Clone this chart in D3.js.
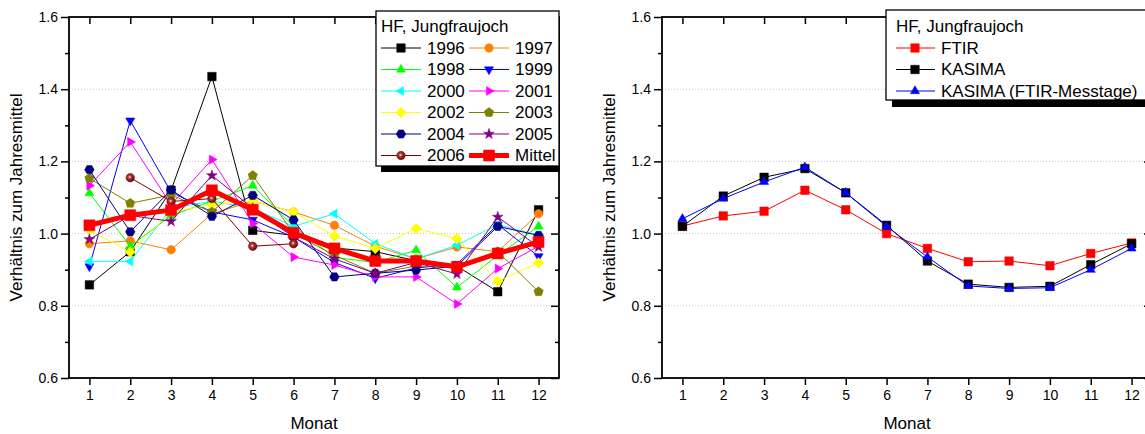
<!DOCTYPE html>
<html><head><meta charset="utf-8">
<script src="https://cdn.jsdelivr.net/npm/d3@7"></script>
<style>body{margin:0;background:#fff;} svg{display:block;font-family:"Liberation Sans",Arial,sans-serif;}</style>
</head><body><svg id="chart" width="1145" height="434"></svg>
<script>
// ---------- DATA ----------
const months = [1,2,3,4,5,6,7,8,9,10,11,12];
const yMajorTicks = [0.6,0.8,1.0,1.2,1.4,1.6];
const yMinorTicks = [0.7,0.9,1.1,1.3,1.5];
const legendTitle = "HF, Jungfraujoch";
const xTitle = "Monat";
const yTitle = "Verhältnis zum Jahresmittel";

const yearNames = ["1996","1997","1998","1999","2000","2001","2002","2003","2004","2005","2006"];
const v1996 = [0.858,0.95,1.12,1.435,1.009,0.995,0.96,0.95,0.925,0.91,0.839,1.066];
const v1997 = [0.972,0.98,0.955,1.055,1.09,1.06,1.023,0.965,0.93,0.963,0.95,1.055];
const v1998 = [1.112,0.965,1.05,1.09,1.133,1.02,0.934,0.92,0.954,0.851,0.94,1.02];
const v1999 = [0.909,1.313,1.115,1.06,1.038,0.99,0.92,0.876,0.905,0.915,1.025,0.937];
const v2000 = [0.923,0.923,1.07,1.09,1.07,1.02,1.055,0.972,0.93,0.968,1.025,0.995];
const v2001 = [1.133,1.254,1.08,1.205,1.028,0.935,0.913,0.88,0.88,0.805,0.903,0.965];
const v2002 = [1.01,0.949,1.06,1.08,1.09,1.06,0.993,0.959,1.014,0.986,0.868,0.919];
const v2003 = [1.153,1.084,1.107,1.06,1.161,1.0,0.94,0.89,0.91,0.91,0.95,0.839];
const v2004 = [1.177,1.005,1.121,1.048,1.106,1.038,0.88,0.89,0.899,0.91,1.02,0.995];
const v2005 = [0.984,1.05,1.034,1.161,1.07,0.99,0.93,0.89,0.92,0.888,1.046,0.963];
const v2006 = [null,1.155,1.089,1.097,0.965,0.972,null,null,null,null,null,null];
const meanName = "Mittel";
const vMittel = [1.023,1.051,1.065,1.12,1.066,1.002,0.959,0.924,0.924,0.908,0.945,0.977];

const rightNames = ["FTIR","KASIMA","KASIMA (FTIR-Messtage)"];
const vFTIR = [1.021,1.049,1.062,1.12,1.066,1.0,0.959,0.922,0.924,0.911,0.945,0.974];
const vKASIMA = [1.02,1.104,1.156,1.18,1.113,1.023,0.924,0.86,0.851,0.854,0.914,0.972];
const vKASIMAmt = [1.041,1.097,1.143,1.184,1.113,1.02,0.935,0.855,0.848,0.85,0.9,0.959];

// ---------- STYLES ----------
const FONT = "'Liberation Sans', Arial, sans-serif";
const yearValues = [v1996,v1997,v1998,v1999,v2000,v2001,v2002,v2003,v2004,v2005,v2006];
const yearColors = ["#000000","#FF8000","#00FF00","#0000FF","#00FFFF","#FF00FF","#FFFF00","#808000","#000080","#800080","#800000"];
const yearSymbols = ["square","circle","triUp","triDown","triLeft","triRight","diamond","pentagon","hexagon","star","ball"];

const svg = d3.select("#chart");
const defs = svg.append("defs");
const grad = defs.append("radialGradient").attr("id","ballGrad").attr("cx","0.4").attr("cy","0.4").attr("r","0.6").attr("fx","0.45").attr("fy","0.45");
grad.append("stop").attr("offset","0").attr("stop-color","#ffffff");
grad.append("stop").attr("offset","0.3").attr("stop-color","#b04040");
grad.append("stop").attr("offset","1").attr("stop-color","#700000");

function polyPath(n, r, rot){
  const pts=[];
  for(let i=0;i<n;i++){const a=rot+i*2*Math.PI/n; pts.push([r*Math.cos(a), r*Math.sin(a)]);}
  return "M"+pts.map(p=>p[0].toFixed(2)+","+p[1].toFixed(2)).join("L")+"Z";
}
function symbolPath(type, s){
  switch(type){
    case "square": return `M${-s/2},${-s/2}h${s}v${s}h${-s}Z`;
    case "circle": return d3.symbol(d3.symbolCircle, Math.PI*(s/2)*(s/2))();
    case "ball": return d3.symbol(d3.symbolCircle, Math.PI*(s/2)*(s/2))();
    case "triUp": return polyPath(3, s*0.62, -Math.PI/2);
    case "triDown": return polyPath(3, s*0.62, Math.PI/2);
    case "triLeft": return polyPath(3, s*0.62, Math.PI);
    case "triRight": return polyPath(3, s*0.62, 0);
    case "diamond": return polyPath(4, s*0.62, -Math.PI/2);
    case "pentagon": return polyPath(5, s*0.58, -Math.PI/2);
    case "hexagon": return polyPath(6, s*0.56, 0);
    case "star": return d3.symbol(d3.symbolStar, s*s*0.5)();
  }
}
function drawSymbol(g, type, color, x, y, s){
  const p = g.append("path").attr("d", symbolPath(type, s)).attr("transform",`translate(${x},${y})`);
  if(type==="ball") p.attr("fill","url(#ballGrad)").attr("stroke","#700000").attr("stroke-width",0.5);
  else p.attr("fill",color).attr("stroke",color).attr("stroke-width",0.5);
  return p;
}

const TOP=17, BOTTOM=378;
function makePanel(left, right){
  const x = d3.scaleLinear().domain([0.5,12.5]).range([left,right]);
  const y = d3.scaleLinear().domain([0.6,1.6]).range([BOTTOM,TOP]);
  const g = svg.append("g");
  g.append("g").selectAll("line").data([0.8,1.0,1.2,1.4]).join("line")
    .attr("x1",left).attr("x2",right).attr("y1",d=>y(d)).attr("y2",d=>y(d))
    .attr("stroke","#c8c8c8").attr("stroke-width",1).attr("stroke-dasharray","1,2");
  const axL = g.append("g").attr("transform",`translate(${left},0)`)
    .call(d3.axisLeft(y).tickValues(yMajorTicks).tickFormat(d3.format(".1f")).tickSize(8).tickPadding(3));
  const axLm = g.append("g").attr("transform",`translate(${left},0)`)
    .call(d3.axisLeft(y).tickValues(yMinorTicks).tickFormat("").tickSize(4));
  const axR = g.append("g").attr("transform",`translate(${right},0)`)
    .call(d3.axisRight(y).tickValues(yMajorTicks).tickFormat("").tickSize(-8));
  const axRm = g.append("g").attr("transform",`translate(${right},0)`)
    .call(d3.axisRight(y).tickValues(yMinorTicks).tickFormat("").tickSize(-4));
  const axB = g.append("g").attr("transform",`translate(0,${BOTTOM})`)
    .call(d3.axisBottom(x).tickValues(months).tickFormat(d3.format("d")).tickSize(7).tickPadding(5));
  const axT = g.append("g").attr("transform",`translate(0,${TOP})`)
    .call(d3.axisTop(x).tickValues(months).tickFormat("").tickSize(-7));
  [axL,axLm,axR,axRm,axB,axT].forEach(a=>{
    a.attr("font-family",FONT);
    a.select(".domain").remove();
    a.selectAll(".tick line").attr("stroke","#000").attr("stroke-width",1.5);
    a.selectAll("text").attr("font-size",14).attr("fill","#000").attr("font-family",FONT);
  });
  g.append("rect").attr("x",left).attr("y",TOP).attr("width",right-left).attr("height",BOTTOM-TOP)
    .attr("fill","none").attr("stroke","#000").attr("stroke-width",1.8);
  svg.append("text").attr("x",(left+right)/2).attr("y",429).attr("text-anchor","middle")
    .attr("font-size",17).attr("font-family",FONT).text(xTitle);
  svg.append("text").attr("transform",`translate(${left-47},${(TOP+BOTTOM)/2}) rotate(-90)`)
    .attr("text-anchor","middle").attr("font-size",17).attr("font-family",FONT).text(yTitle);
  return {x,y,g};
}

function drawSeries(P, vals, color, sym, size, lw){
  const pts = months.map((m,i)=>({m, v: vals[i]}));
  const line = d3.line().defined(d=>d.v!=null).x(d=>P.x(d.m)).y(d=>P.y(d.v));
  const gg = svg.append("g");
  gg.append("path").datum(pts).attr("d",line).attr("fill","none").attr("stroke",color).attr("stroke-width",lw).attr("stroke-linejoin","round");
  pts.filter(d=>d.v!=null).forEach(d=>drawSymbol(gg, sym, color, P.x(d.m), P.y(d.v), size));
}

// ---------- LEFT PANEL ----------
const L = makePanel(69, 559);
yearValues.forEach((vals,i)=>drawSeries(L, vals, yearColors[i], yearSymbols[i], 8.5, 1));
drawSeries(L, vMittel, "#FF0000", "square", 11, 5);

(function(){
  const bx=376, by=11, bw=183, bh=155;
  svg.append("rect").attr("x",bx+5).attr("y",by+bh).attr("width",bw-4).attr("height",6).attr("fill","#000");
  svg.append("rect").attr("x",bx).attr("y",by).attr("width",bw).attr("height",bh).attr("fill","#fff").attr("stroke","#000").attr("stroke-width",1.3);
  const lg = svg.append("g").attr("font-family",FONT);
  lg.append("text").attr("x",bx+5).attr("y",by+15).attr("dy","0.35em").attr("font-size",17).text(legendTitle);
  const names = yearNames.concat([meanName]);
  names.forEach((n,i)=>{
    const col = i%2, row = Math.floor(i/2);
    const cy = 48 + row*21.5;
    const x0 = col===0 ? 381 : 469;
    const isMean = n===meanName;
    const color = isMean ? "#FF0000" : yearColors[i];
    lg.append("line").attr("x1",x0).attr("x2",x0+40).attr("y1",cy).attr("y2",cy).attr("stroke",color).attr("stroke-width",isMean?5:1);
    drawSymbol(lg, isMean?"square":yearSymbols[i], color, x0+20, cy, isMean?11:8.5);
    lg.append("text").attr("x",x0+46).attr("y",cy).attr("dy","0.35em").attr("font-size",17).text(n);
  });
})();

// ---------- RIGHT PANEL ----------
const R = makePanel(662, 1152);
const rightValues = [vFTIR, vKASIMA, vKASIMAmt];
const rightColors = ["#FF0000","#000000","#0000FF"];
const rightSymbols = ["square","square","triUp"];
rightValues.forEach((vals,i)=>drawSeries(R, vals, rightColors[i], rightSymbols[i], 8.5, 1));

(function(){
  const bx=886, by=10, bw=290, bh=90;
  svg.append("rect").attr("x",bx+6).attr("y",by+bh).attr("width",bw).attr("height",7).attr("fill","#000");
  svg.append("rect").attr("x",bx).attr("y",by).attr("width",bw).attr("height",bh).attr("fill","#fff").attr("stroke","#000").attr("stroke-width",1.3);
  const lg = svg.append("g").attr("font-family",FONT);
  lg.append("text").attr("x",bx+10).attr("y",by+16).attr("dy","0.35em").attr("font-size",17).text(legendTitle);
  rightNames.forEach((n,i)=>{
    const cy = 48 + i*21.5;
    const x0 = 896;
    lg.append("line").attr("x1",x0).attr("x2",x0+39).attr("y1",cy).attr("y2",cy).attr("stroke",rightColors[i]).attr("stroke-width",1);
    drawSymbol(lg, rightSymbols[i], rightColors[i], x0+19, cy, 8.5);
    lg.append("text").attr("x",x0+45).attr("y",cy).attr("dy","0.35em").attr("font-size",17).text(n);
  });
})();
</script></body></html>
